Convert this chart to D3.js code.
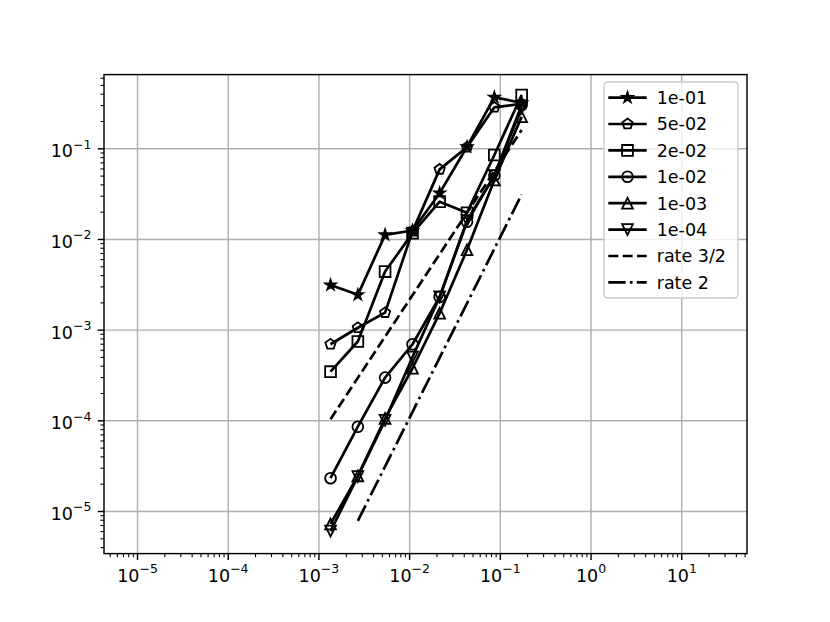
<!DOCTYPE html>
<html>
<head>
<meta charset="utf-8">
<script src="https://cdn.jsdelivr.net/npm/d3@7"></script>
<style>
  body { margin: 0; background: #fff; }
  text { font-family: "DejaVu Sans", sans-serif; }
</style>
</head>
<body>
<div id="chart"></div>
<script>
// mesh sizes (x) and errors per parameter value
var h = [0.00136, 0.00272, 0.00543, 0.0109, 0.0217, 0.0435, 0.087, 0.174];

var err1e01 = [3.1e-3, 2.42e-3, 1.11e-2, 1.24e-2, 3.2e-2, 0.104, 0.365, 0.318];
var err5e02 = [6.9e-4, 1.05e-3, 1.54e-3, 1.22e-2, 0.0586, 0.103, 0.283, 0.31];
var err2e02 = [3.44e-4, 7.4e-4, 4.37e-3, 1.16e-2, 0.0258, 0.0195, 0.0843, 0.387];
var err1e02 = [2.3e-5, 8.5e-5, 2.96e-4, 6.9e-4, 2.29e-3, 0.0155, 0.05, 0.3];
var err1e03 = [7.2e-6, 2.44e-5, 1.05e-4, 3.75e-4, 1.52e-3, 7.6e-3, 0.0447, 0.223];
var err1e04 = [6.0e-6, 2.4e-5, 1.0e-4, 5.0e-4, 2.3e-3, 0.016, 0.05, 0.28];

var seriesLabels = ["1e-01", "5e-02", "2e-02", "1e-02", "1e-03", "1e-04"];
var seriesMarkers = ["star", "pentagon", "square", "circle", "triUp", "triDown"];
var seriesValues = [err1e01, err5e02, err2e02, err1e02, err1e03, err1e04];

// reference slopes (end points)
var rate32x = [0.00136, 0.174];
var rate32y = [1.03e-4, 0.159];
var rate2x = [0.00272, 0.174];
var rate2y = [7.8e-6, 0.031];

var width = 830, height = 622;
var margin = {top: 74.6, right: 83, bottom: 68.4, left: 104};
var plotW = width - margin.left - margin.right,
    plotH = height - margin.top - margin.bottom;

var svg = d3.select("#chart").append("svg")
    .attr("width", width)
    .attr("height", height);

svg.append("rect").attr("width", width).attr("height", height).attr("fill", "#fff");

var x = d3.scaleLog().domain([Math.pow(10, -5.364), Math.pow(10, 1.725)]).range([margin.left, margin.left + plotW]);
var y = d3.scaleLog().domain([Math.pow(10, -5.47), Math.pow(10, -0.187)]).range([margin.top + plotH, margin.top]);

var isMajor = function(v) {
    var l = Math.log10(v);
    return Math.abs(l - Math.round(l)) < 1e-9;
};
var xMajor = x.ticks().filter(isMajor), xMinor = x.ticks().filter(function(v) { return !isMajor(v); });
var yMajor = y.ticks().filter(isMajor), yMinor = y.ticks().filter(function(v) { return !isMajor(v); });

// grid
svg.append("g")
    .attr("transform", "translate(0," + (margin.top + plotH) + ")")
    .call(d3.axisBottom(x).tickValues(xMajor).tickSize(-plotH).tickFormat(""))
    .call(function(g) {
	g.select(".domain").remove();
	g.selectAll("line").attr("stroke", "#b0b0b0").attr("stroke-width", 1.44);
    });
svg.append("g")
    .attr("transform", "translate(" + margin.left + ",0)")
    .call(d3.axisLeft(y).tickValues(yMajor).tickSize(-plotW).tickFormat(""))
    .call(function(g) {
	g.select(".domain").remove();
	g.selectAll("line").attr("stroke", "#b0b0b0").attr("stroke-width", 1.44);
    });

var markerPath = function(type, r) {
    var pts = [], i, a;
    if (type == "circle") {
	return "M" + r + ",0A" + r + "," + r + " 0 1,1 " + (-r) + ",0A" + r + "," + r + " 0 1,1 " + r + ",0Z";
    }
    if (type == "star") {
	for (i = 0; i < 10; i++) {
	    a = -Math.PI / 2 + i * Math.PI / 5;
	    var rr = (i % 2 == 0) ? r : r * 0.381966;
	    pts.push([rr * Math.cos(a), rr * Math.sin(a)]);
	}
    } else if (type == "pentagon") {
	for (i = 0; i < 5; i++) {
	    a = -Math.PI / 2 + i * 2 * Math.PI / 5;
	    pts.push([r * Math.cos(a), r * Math.sin(a)]);
	}
    } else if (type == "square") {
	pts = [[-r, -r], [r, -r], [r, r], [-r, r]];
    } else if (type == "triUp") {
	pts = [[0, -r], [-r, r], [r, r]];
    } else if (type == "triDown") {
	pts = [[0, r], [-r, -r], [r, -r]];
    }
    return "M" + pts.map(function(p) { return p[0].toFixed(2) + "," + p[1].toFixed(2); }).join("L") + "Z";
};
// the small star reads as solid in the original
var markerFill = function(type) { return type == "star" ? "#000" : "none"; };

var line = d3.line()
    .x(function(d) { return x(d[0]); })
    .y(function(d) { return y(d[1]); });

var plotArea = svg.append("g");

seriesValues.forEach(function(vals, k) {
    var pts = h.map(function(hv, i) { return [hv, vals[i]]; });
    var g = plotArea.append("g");
    g.append("path")
	.attr("d", line(pts))
	.attr("fill", "none")
	.attr("stroke", "#000")
	.attr("stroke-width", 2.7)
	.attr("stroke-linejoin", "round");
    g.selectAll("path.m").data(pts).enter()
	.append("path")
	.attr("class", "m")
	.attr("d", markerPath(seriesMarkers[k], 5.4))
	.attr("transform", function(d) { return "translate(" + x(d[0]) + "," + y(d[1]) + ")"; })
	.attr("fill", markerFill(seriesMarkers[k]))
	.attr("stroke", "#000")
	.attr("stroke-width", 1.8);
});

plotArea.append("path")
    .attr("d", line(rate32x.map(function(v, i) { return [v, rate32y[i]]; })))
    .attr("fill", "none").attr("stroke", "#000").attr("stroke-width", 2.7)
    .attr("stroke-dasharray", "10,4.3");
plotArea.append("path")
    .attr("d", line(rate2x.map(function(v, i) { return [v, rate2y[i]]; })))
    .attr("fill", "none").attr("stroke", "#000").attr("stroke-width", 2.7)
    .attr("stroke-dasharray", "17.3,4.3,2.7,4.3");

// spines
svg.append("rect")
    .attr("x", margin.left).attr("y", margin.top)
    .attr("width", plotW).attr("height", plotH)
    .attr("fill", "none").attr("stroke", "#000").attr("stroke-width", 1.44);

// axes ticks
var supLabel = function(sel, sup) {
    sel.text(null);
    sel.append("tspan").text("10");
    sel.append("tspan").attr("dy", -8.5).attr("font-size", 12.5).text(sup);
};
var expText = function(v) {
    var e = Math.round(Math.log10(v));
    return e < 0 ? "\u2212" + (-e) : "" + e;
};

var xAxisG = svg.append("g")
    .attr("transform", "translate(0," + (margin.top + plotH) + ")");
xAxisG.append("g").call(d3.axisBottom(x).tickValues(xMinor).tickSize(3.6).tickFormat(""))
    .call(function(g) { g.select(".domain").remove(); g.selectAll("line").attr("stroke-width", 1.08); });
xAxisG.append("g").call(d3.axisBottom(x).tickValues(xMajor).tickSize(6.3).tickFormat(""))
    .call(function(g) {
	g.select(".domain").remove();
	g.selectAll("line").attr("stroke-width", 1.44);
	g.selectAll(".tick text")
	    .attr("y", 28).attr("dy", null)
	    .attr("font-size", 17.5).attr("fill", "#000")
	    .attr("font-family", "DejaVu Sans")
	    .attr("text-anchor", "middle")
	    .each(function(d) { supLabel(d3.select(this), expText(d)); });
    });

var yAxisG = svg.append("g")
    .attr("transform", "translate(" + margin.left + ",0)");
yAxisG.append("g").call(d3.axisLeft(y).tickValues(yMinor).tickSize(3.6).tickFormat(""))
    .call(function(g) { g.select(".domain").remove(); g.selectAll("line").attr("stroke-width", 1.08); });
yAxisG.append("g").call(d3.axisLeft(y).tickValues(yMajor).tickSize(6.3).tickFormat(""))
    .call(function(g) {
	g.select(".domain").remove();
	g.selectAll("line").attr("stroke-width", 1.44);
	g.selectAll(".tick text")
	    .attr("x", -12.6).attr("y", 8.4).attr("dy", null)
	    .attr("font-size", 17.5).attr("fill", "#000")
	    .attr("font-family", "DejaVu Sans")
	    .attr("text-anchor", "end")
	    .each(function(d) { supLabel(d3.select(this), expText(d)); });
    });

// legend
var legendLabels = seriesLabels.concat(["rate 3/2", "rate 2"]);
var legendMarkers = seriesMarkers.concat([null, null]);
var legendDash = [null, null, null, null, null, null, "10,4.3", "17.3,4.3,2.7,4.3"];

var legend = svg.append("g");
legend.append("rect")
    .attr("x", 604).attr("y", 82).attr("width", 134).attr("height", 216)
    .attr("rx", 3.5)
    .attr("fill", "#fff").attr("fill-opacity", 0.8)
    .attr("stroke", "#cccccc").attr("stroke-width", 1.4);

legendLabels.forEach(function(lab, i) {
    var ry = 97.6 + i * 26.4;
    var row = legend.append("g");
    row.append("line")
	.attr("x1", 608.3).attr("x2", 646.7)
	.attr("y1", ry).attr("y2", ry)
	.attr("stroke", "#000").attr("stroke-width", 2.7)
	.attr("stroke-dasharray", legendDash[i]);
    if (legendMarkers[i]) {
	row.append("path")
	    .attr("d", markerPath(legendMarkers[i], 5.4))
	    .attr("transform", "translate(627.5," + ry + ")")
	    .attr("fill", markerFill(legendMarkers[i])).attr("stroke", "#000").attr("stroke-width", 1.8);
    }
    row.append("text")
	.attr("x", 656.7).attr("y", ry + 6.4)
	.attr("font-size", 17.5)
	.text(lab);
});
</script>
</body>
</html>
